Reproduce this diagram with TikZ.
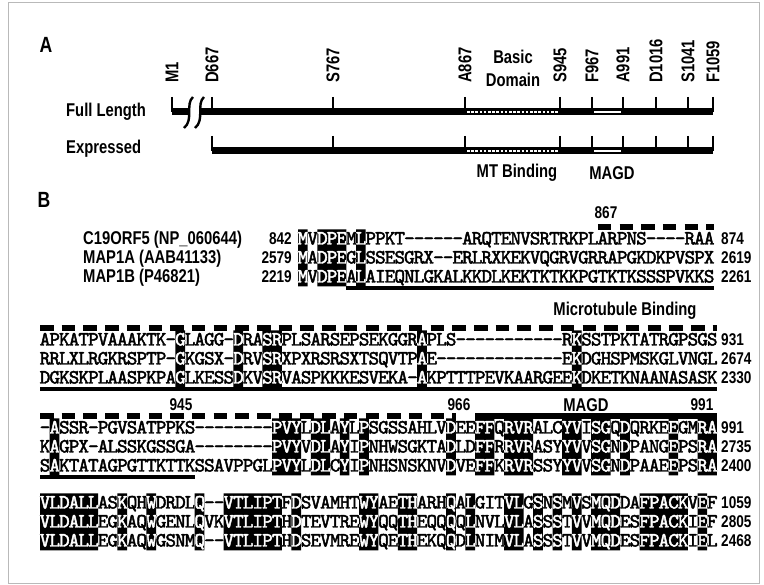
\documentclass[tikz,border=0pt]{standalone}
\usepackage{fontspec}
\setmainfont{Liberation Sans}
\newfontfamily\labfont[FakeStretch=0.8]{Liberation Sans}
\newfontfamily\seqfont[FakeBold=2.2]{lmmono10-regular.otf}
% one residue per fixed cell
\newcommand\cells[1]{\expandafter\cellsloop#1\relax}
\def\cellsloop#1{\ifx#1\relax\else\makebox[9.67pt]{#1}\expandafter\cellsloop\fi}
\begin{document}
\begin{tikzpicture}[x=1pt, y=-1pt]
    \tikzset{lab/.style={font=\labfont\bfseries\fontsize{18.5}{20}\selectfont, inner sep=0pt},
             num/.style={lab, font=\labfont\bfseries\fontsize{17}{18}\selectfont},
             big/.style={lab, font=\labfont\bfseries\fontsize{22}{24}\selectfont},
             res/.style={font=\seqfont\fontsize{20.2}{19}\selectfont, inner sep=0pt, anchor=base west},
             bar/.style={line width=7pt}, tickln/.style={line width=1.3pt},
             brk/.style={line width=2.4pt},
             dashbar/.style={line width=5.5pt, dash pattern=on 13.5pt off 8.2pt},
             uline/.style={line width=4pt}}
    \useasboundingbox (0,0) rectangle (764,585);
    \draw[gray!55, line width=1pt] (8,3) rectangle (759,583);
    % panel A: constructs
    \node[big] (pa) at (46,45) {A};
    \node[lab, anchor=west] (full) at (66,112) {Full Length};
    \node[lab, anchor=west] (expr) at (66,149) {Expressed};
    \draw[bar] (172,112) -- (189,112);
    \draw[bar] (200,112) -- (713,112);
    \draw[bar] (212,151) -- (713,151);
    \draw[brk] (193,97) .. controls (185,104) and (194,120) .. (184,128);
    \draw[brk] (204,97) .. controls (196,104) and (205,120) .. (195,128);
    \foreach \yy in {112,151} {
      \draw[white, line width=2.6pt, dash pattern=on 2.6pt off 1.6pt] (467,\yy) -- (558,\yy);
      \draw[white, line width=2.6pt] (594,\yy) -- (621,\yy);
    }
    \foreach \lbl/\xx in {M1/172, D667/212, S767/333, A867/465, S945/560, F967/592, A991/623, D1016/656, S1041/688, F1059/713} {
      \draw[tickln] (\xx,97) -- (\xx,112);
      \node[lab, rotate=90, anchor=west] (t\lbl) at (\xx,83) {\lbl};
    }
    \foreach \xx in {212,333,465,560,592,623,656,688,713}
      \draw[tickln] (\xx,136) -- (\xx,151);
    \node[lab] (basic) at (513,57) {Basic};
    \node[lab] (domain) at (513,80) {Domain};
    \node[lab] (mtb) at (517,173) {MT Binding};
    \node[lab] (magd) at (612,173) {MAGD};

    % panel B: alignment
    \node[big] (pb) at (44,200) {B};
    \foreach \rw/\nm/\st in {0/C19ORF5 (NP\_060644)/842, 1/MAP1A (AAB41133)/2579, 2/MAP1B (P46821)/2219} {
      \node[lab, anchor=base west] (nm\rw) at (83,{244.5+19*\rw}) {\nm};
      \node[num, anchor=base east] (st\rw) at (292,{244.5+19*\rw}) {\st};
    }
    \foreach \yb/\na/\nb/\nc [count=\k] in {244.5/874/2619/2261, 345.5/931/2674/2330, 433.5/991/2735/2400, 508.5/1059/2805/2468} {
      \node[num, anchor=base west] (ea\k) at (721,\yb) {\na};
      \node[num, anchor=base west] (eb\k) at (721,\yb+19) {\nb};
      \node[num, anchor=base west] (ec\k) at (721,\yb+38) {\nc};
    }

    % block 1
    \def\rows{0/MVDPEMLPPKT------ARQTENVSRTRKPLARPNS----RAA,1/MADPEGLSSESGRX--ERLRXKEKVQGRVGRRAPGKDKPVSPX,2/MVDPEALAIEQNLGKALKKDLKEKTKTKKPGTKTKSSSPVKKS}
    \def\shd{1/1,3/5,7/7}
    \node[num] (n867) at (606,213) {867};
    \draw[dashbar] (597.8,227) -- (713.8,227);
    \draw[uline] (346.4,288) -- (713.8,288);
    \foreach \rw/\sq in \rows \node[res] (a\rw) at (298,{244.5+19*\rw}) {\cells{\sq}};
    \fill \foreach \a/\b in \shd {({298+9.67*(\a-1)},229.5) rectangle ({298+9.67*\b},286.5)};
    \begin{scope}
      \clip \foreach \a/\b in \shd {({298+9.67*(\a-1)},229.5) rectangle ({298+9.67*\b},286.5)};
      \foreach \rw/\sq in \rows \node[res, text=white] (aw\rw) at (298,{244.5+19*\rw}) {\cells{\sq}};
    \end{scope}

    % block 2
    \def\rows{0/APKATPVAAAKTK-GLAGG-DRASRPLSARSEPSEKGGRAPLS-----------RKSSTPKTATRGPSGS,1/RRLXLRGKRSPTP-GKGSX-DRVSRXPXRSRSXTSQVTPAE-------------EKDGHSPMSKGLVNGL,2/DGKSKPLAASPKPAGLKESSDKVSRVASPKKKESVEKA-AKPTTTPEVKAARGEEKDKETKNAANASASK}
    \def\shd{15/15,21/21,24/25,40/40,56/56}
    \node[lab] (mtbind) at (625,311) {Microtubule Binding};
    \draw[dashbar] (40,328) -- (716.9,328);
    \draw[uline] (40,389) -- (716.9,389);
    \foreach \rw/\sq in \rows \node[res] (b\rw) at (40,{345.5+19*\rw}) {\cells{\sq}};
    \fill \foreach \a/\b in \shd {({40+9.67*(\a-1)},330.5) rectangle ({40+9.67*\b},387.5)};
    \begin{scope}
      \clip \foreach \a/\b in \shd {({40+9.67*(\a-1)},330.5) rectangle ({40+9.67*\b},387.5)};
      \foreach \rw/\sq in \rows \node[res, text=white] (bw\rw) at (40,{345.5+19*\rw}) {\cells{\sq}};
    \end{scope}

    % block 3
    \def\rows{0/-ASSR-PGVSATPPKS--------PVYLDLAYLPSGSSAHLVDEEFFQRVRALCYVISGQDQRKEEGMRA,1/KAGPX-ALSSKGSSGA--------PVYVDLAYIPNHWSGKTADLDFFRRVRASYYVVSGNDPANGEPSRA,2/SAKTATAGPGTTKTTKSSAVPPGLPVYLDLCYIPNHSNSKNVDVEFFKRVRSSYYVVSGNDPAAEEPSRA}
    \def\shd{2/2,25/27,29/30,32/32,34/34,43/43,46/47,49/51,55/56,58/59,61/61,66/66,69/70}
    \node[num] (n945) at (181,405) {945};
    \node[num] (n966) at (459,405) {966};
    \node[lab] (magdb) at (586,405) {MAGD};
    \node[num] (n991) at (702,405) {991};
    \draw[dashbar] (40,416) -- (456.1,416);
    \draw[line width=6pt] (475.2,416) -- (716.9,416);
    \draw[uline] (40,477) -- (194.7,477);
    \foreach \rw/\sq in \rows \node[res] (c\rw) at (40,{433.5+19*\rw}) {\cells{\sq}};
    \fill \foreach \a/\b in \shd {({40+9.67*(\a-1)},418.5) rectangle ({40+9.67*\b},475.5)};
    \begin{scope}
      \clip \foreach \a/\b in \shd {({40+9.67*(\a-1)},418.5) rectangle ({40+9.67*\b},475.5)};
      \foreach \rw/\sq in \rows \node[res, text=white] (cw\rw) at (40,{433.5+19*\rw}) {\cells{\sq}};
    \end{scope}

    % block 4
    \def\rows{0/VLDALLASKQHWDRDLQ--VTLIPTFDSVAMHTWYAETHARHQALGITVLGSNSMVSMQDDAFPACKVEF,1/VLDALLEGKAQWGENLQVKVTLIPTHDTEVTREWYQQTHEQQQQLNVLVLASSSTVVMQDESFPACKIEF,2/VLDALLEGKAQWGSNMQ--VTLIPTHDSEVMREWYQETHEKQQDLNIMVLASSSTVVMQDESFPACKIEL}
    \def\shd{1/6,9/9,12/12,17/17,20/25,27/27,34/35,38/39,43/43,45/45,49/50,52/52,54/54,56/56,58/60,63/67,69/69}
    \foreach \rw/\sq in \rows \node[res] (d\rw) at (40,{508.5+19*\rw}) {\cells{\sq}};
    \fill \foreach \a/\b in \shd {({40+9.67*(\a-1)},493.5) rectangle ({40+9.67*\b},550.5)};
    \begin{scope}
      \clip \foreach \a/\b in \shd {({40+9.67*(\a-1)},493.5) rectangle ({40+9.67*\b},550.5)};
      \foreach \rw/\sq in \rows \node[res, text=white] (dw\rw) at (40,{508.5+19*\rw}) {\cells{\sq}};
    \end{scope}
\end{tikzpicture}
\end{document}
